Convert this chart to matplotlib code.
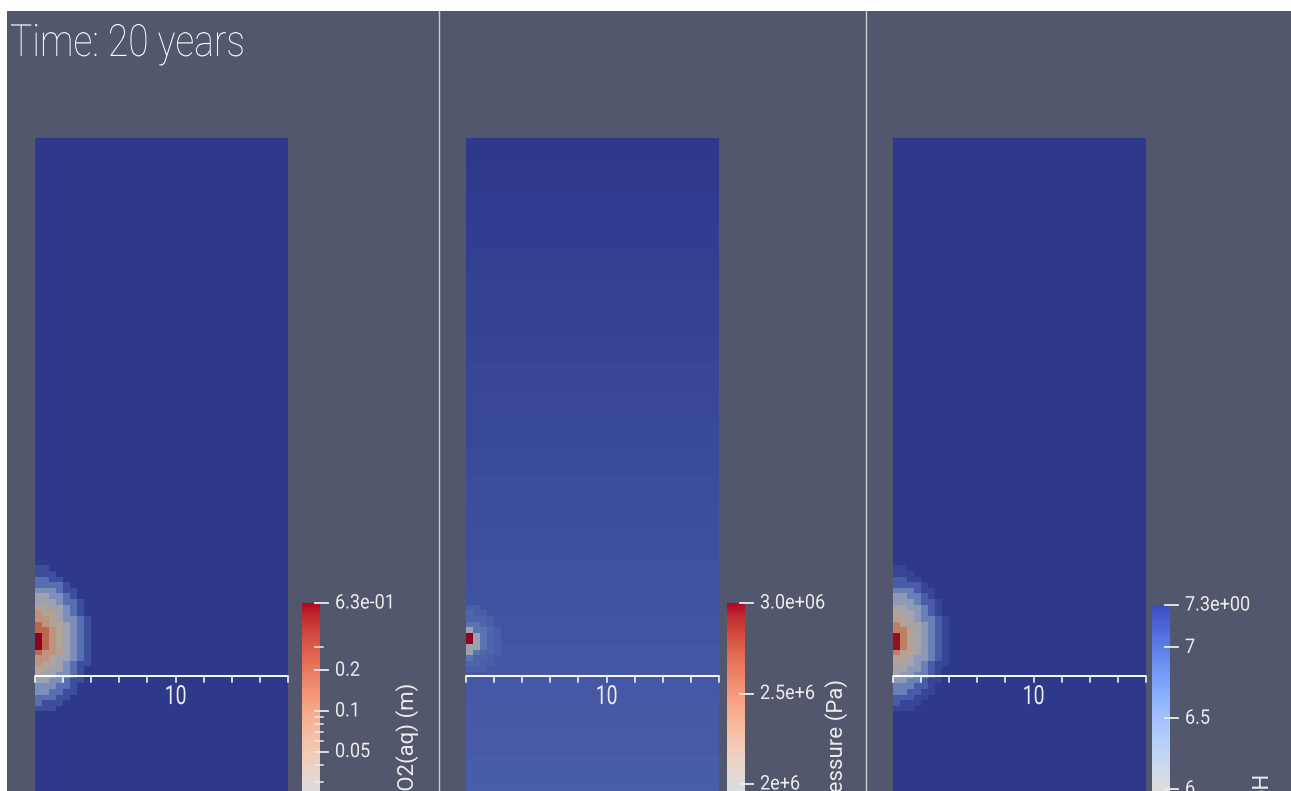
import numpy as np
import matplotlib
matplotlib.use("Agg")
import matplotlib.pyplot as plt
from matplotlib.colors import LogNorm, Normalize, ListedColormap
from matplotlib.patches import Rectangle
from matplotlib.lines import Line2D
from matplotlib.path import Path
from matplotlib.patheffects import AbstractPathEffect
from matplotlib.transforms import Affine2D, blended_transform_factory
from matplotlib.cm import ScalarMappable

W, H = 1291, 791
plt.rcParams['font.family'] = ['Roboto', 'DejaVu Sans']
plt.rcParams['font.weight'] = 'light'

# ---------------------------------------------------------------- data
time_label = "Time: 20 years"

domain_width = 18.0          # m
depth_extent = 48.0          # m (shown part of the column)
cell_dx, cell_dz = 0.5, 0.4  # m
injection_depth = 35.7       # m below the top of the column
ring_step = 0.5              # m between stored plume rings

# dissolved CO2 around the injection point, ring by ring (mol)
co2_rings = [0.63, 0.16, 0.055, 0.03, 0.016, 0.007, 0.003, 0.0015]
co2_background = 1e-4
co2_aspect = 1.3

# pressure around the well, ring by ring (Pa)
pressure_rings = [3.0e6, 1.85e6, 1.36e6, 1.27e6, 1.23e6]
pressure_aspect = 1.0
# background pressure per 2 m of depth (Pa)
pressure_band = 2.0
pressure_profile = [1.000e6, 1.010e6, 1.020e6, 1.030e6, 1.040e6, 1.050e6,
                    1.060e6, 1.070e6, 1.080e6, 1.090e6, 1.100e6, 1.110e6,
                    1.120e6, 1.130e6, 1.140e6, 1.150e6, 1.160e6, 1.170e6,
                    1.180e6, 1.190e6, 1.200e6, 1.210e6, 1.220e6, 1.230e6]

# pH around the injection point, ring by ring
ph_rings = [4.75, 5.45, 5.9, 6.1, 6.35, 6.7, 7.02, 7.2]
ph_background = 7.3
ph_aspect = 1.3

co2_range = (1e-3, 0.63)
pressure_range = (1.0e6, 3.0e6)
ph_range = (4.7, 7.3)

co2_ticks = [0.63, 0.2, 0.1, 0.05]
co2_tick_labels = ['6.3e-01', '0.2', '0.1', '0.05']
co2_minor_ticks = [0.3, 0.09, 0.08, 0.07, 0.06, 0.04, 0.03]
pressure_ticks = [3.0e6, 2.5e6, 2.0e6]
pressure_tick_labels = ['3.0e+06', '2.5e+6', '2e+6']
ph_ticks = [7.3, 7.0, 6.5, 6.0]
ph_tick_labels = ['7.3e+00', '7', '6.5', '6']

colorbar_titles = ['CO2(aq) (m)', 'Pressure (Pa)', 'pH']

ruler_ticks = [0, 2, 4, 6, 8, 10, 12, 14, 16, 18]
ruler_labels = {10: '10'}
ruler_depth = 38.28

# ---------------------------------------------------------------- fields
xe = np.arange(0.0, domain_width + 1e-9, cell_dx)
ze = np.arange(0.0, depth_extent + 1e-9, cell_dz)
xc = 0.5 * (xe[:-1] + xe[1:])
zc = 0.5 * (ze[:-1] + ze[1:])
XC, ZC = np.meshgrid(xc, zc)


def ring_field(rings, background, aspect):
    r = np.hypot(XC, (ZC - injection_depth) / aspect)
    idx = np.minimum(np.floor(r / ring_step).astype(int), len(rings))
    return np.array(list(rings) + [background])[idx]


co2_field = ring_field(co2_rings, co2_background, co2_aspect)
ph_field = ring_field(ph_rings, ph_background, ph_aspect)
band = np.minimum((ZC // pressure_band).astype(int), len(pressure_profile) - 1)
pressure_field = np.maximum(np.array(pressure_profile)[band],
                            ring_field(pressure_rings, 0.0, pressure_aspect))

# ---------------------------------------------------------------- styling
BG = (0.32, 0.34, 0.43)
TEXT = '#ececec'
base = plt.get_cmap('coolwarm')
shade = np.array([0.78, 0.75, 0.73])
lit = ListedColormap(base(np.linspace(0, 1, 256))[:, :3] * shade)
lit_r = lit.reversed()
base_r = base.reversed()


class Squeeze(AbstractPathEffect):
    """Narrow the glyph outlines along the writing direction."""

    def __init__(self, factor, anchor='left'):
        super().__init__()
        self.factor = factor
        self.anchor = anchor

    def draw_path(self, renderer, gc, tpath, affine, rgbFace=None):
        v = tpath.vertices
        if tpath.codes is not None:
            v = v[tpath.codes != Path.CLOSEPOLY]
        if self.anchor == 'left' or len(v) == 0:
            x0 = 0.0
        elif self.anchor == 'right':
            x0 = v[:, 0].max()
        else:
            x0 = 0.5 * (v[:, 0].min() + v[:, 0].max())
        sq = Affine2D().translate(-x0, 0).scale(self.factor, 1).translate(x0, 0)
        renderer.draw_path(gc, tpath, sq + affine, rgbFace)


def fig_rect(x0, y0, x1, y1):
    """Pixel box (y measured from the top) -> figure fraction rect."""
    return [x0 / W, 1 - y1 / H, (x1 - x0) / W, (y1 - y0) / H]


fig = plt.figure(figsize=(W / 100, H / 100), dpi=100, facecolor='white')
renderer = fig.canvas.get_renderer()


def width_factor(s, size, target_px, weight='light'):
    probe = fig.text(0, 0, s, fontsize=size, fontweight=weight)
    w = probe.get_window_extent(renderer).width
    probe.remove()
    return target_px / w


TITLE_SIZE, LABEL_SIZE, RULER_SIZE, CBTITLE_SIZE = 32, 14.5, 19, 16
sq_title = width_factor(time_label, TITLE_SIZE, 235)
sq_label = width_factor('3.0e+06', LABEL_SIZE, 65, 'normal')
sq_ruler = width_factor('10', RULER_SIZE, 22, 'normal')

fig.patches.append(Rectangle((7 / W, 0), 1 - 7 / W, 1 - 11 / H,
                             transform=fig.transFigure, facecolor=BG,
                             edgecolor='none', zorder=-10))
for xd in (438.5, 866.0):
    fig.add_artist(Line2D([xd / W, xd / W], [0, 1 - 11 / H],
                          transform=fig.transFigure, color='#c9cbd2', lw=1.0))

fig.text(10 / W, 1 - 56 / H, time_label, color='white', fontsize=TITLE_SIZE,
         ha='left', va='baseline', path_effects=[Squeeze(sq_title, 'left')])

panels = [
    dict(left=35, field=co2_field, cmap=lit, bar_cmap=base,
         norm=LogNorm(*co2_range), ticks=co2_ticks, labels=co2_tick_labels,
         minor=co2_minor_ticks, bar_x=302, bar_top=603, bar_bottom=981,
         title=colorbar_titles[0], title_x=408, title_top=683),
    dict(left=466, field=pressure_field, cmap=lit, bar_cmap=base,
         norm=Normalize(*pressure_range), ticks=pressure_ticks,
         labels=pressure_tick_labels, minor=[], bar_x=727, bar_top=603,
         bar_bottom=965, title=colorbar_titles[1], title_x=837, title_top=679),
    dict(left=893, field=ph_field, cmap=lit_r, bar_cmap=base_r,
         norm=Normalize(*ph_range), ticks=ph_ticks, labels=ph_tick_labels,
         minor=[], bar_x=1152, bar_top=605, bar_bottom=973,
         title=colorbar_titles[2], title_x=1262, title_top=772),
]

px_per_m = 253.0 / domain_width
dom_top = 138
visible_depth = (H - dom_top) / px_per_m

for p in panels:
    ax = fig.add_axes(fig_rect(p['left'], dom_top, p['left'] + 253, H))
    ax.pcolormesh(xe, ze, p['field'], cmap=p['cmap'], norm=p['norm'],
                  shading='flat', rasterized=True)
    ax.set_xlim(0, domain_width)
    ax.set_ylim(visible_depth, 0)
    ax.axis('off')

    # horizontal ruler with tick marks
    ax.plot([0, domain_width], [ruler_depth, ruler_depth], color='white',
            lw=1.4, solid_capstyle='butt', clip_on=False)
    tick_len = 6 / px_per_m
    for t in ruler_ticks:
        ax.plot([t, t], [ruler_depth, ruler_depth + tick_len], color='white',
                lw=1.1, clip_on=False)
        if t in ruler_labels:
            ax.text(t, ruler_depth + 21 / px_per_m, ruler_labels[t],
                    color=TEXT, fontsize=RULER_SIZE, fontweight='normal',
                    ha='center', va='center',
                    path_effects=[Squeeze(sq_ruler, 'center')])

    # colour legend
    cax = fig.add_axes(fig_rect(p['bar_x'], p['bar_top'], p['bar_x'] + 18,
                                p['bar_bottom']))
    cb = fig.colorbar(ScalarMappable(norm=p['norm'], cmap=p['bar_cmap']),
                      cax=cax)
    cb.outline.set_visible(False)
    cax.minorticks_off()
    cax.set_yticks([])
    cax.tick_params(which='both', length=0, labelleft=False, labelright=False)
    trans = blended_transform_factory(cax.transAxes, cax.transData)
    for v, lab in zip(p['ticks'], p['labels']):
        cax.add_line(Line2D([1 - 5 / 18, 1 + 8 / 18], [v, v], transform=trans,
                            color=TEXT, lw=1.3, clip_on=False))
        cax.text(1 + 15 / 18, v, lab, transform=trans, color=TEXT,
                 fontsize=LABEL_SIZE, fontweight='normal', ha='left',
                 va='center', clip_on=False,
                 path_effects=[Squeeze(sq_label, 'left')])
    for v in p['minor']:
        cax.add_line(Line2D([1 - 5 / 18, 1 + 3 / 18], [v, v], transform=trans,
                            color=TEXT, lw=1.1, clip_on=False))
    fig.text(p['title_x'] / W, 1 - p['title_top'] / H, p['title'],
             rotation=90, color=TEXT, fontsize=CBTITLE_SIZE,
             fontweight='normal', ha='center', va='top')

fig.savefig('out.png', dpi=100, facecolor='white')
